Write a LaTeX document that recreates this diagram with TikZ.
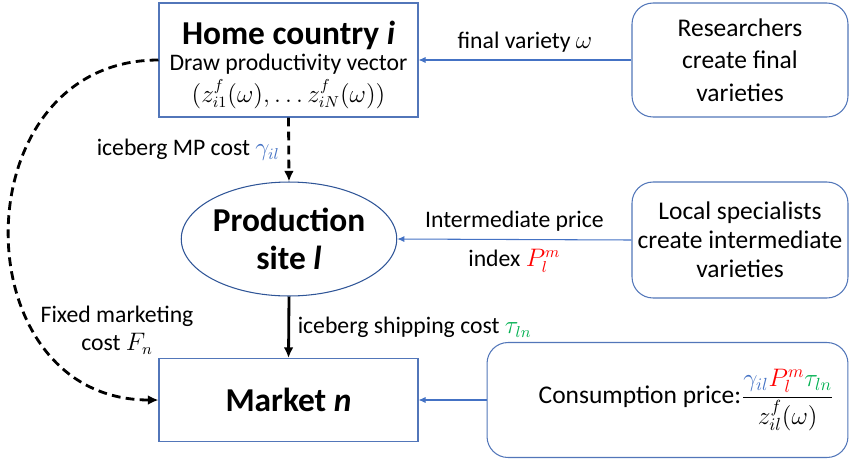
\documentclass[tikz,border=0pt]{standalone}
\usepackage{fontspec}
\setmainfont{Carlito}
\usetikzlibrary{shapes.geometric,arrows.meta}
\definecolor{boxblue}{RGB}{82,118,185}
\definecolor{siteblue}{RGB}{47,85,151}
\definecolor{gamblue}{RGB}{68,114,196}
\definecolor{taugreen}{RGB}{0,176,80}
\newcommand{\headfont}{\fontsize{19}{22}\selectfont\bfseries}
\newcommand{\labfont}{\fontsize{13.5}{16}\selectfont}
\begin{document}
\begin{tikzpicture}[x=0.02cm,y=-0.02cm,
    sq/.style={draw=boxblue,line width=0.6pt,align=center,inner sep=0pt},
    rd/.style={sq,rounded corners=0.42cm,minimum width=4.32cm},
    feed/.style={draw=gamblue,line width=0.6pt,-{Latex[length=4pt,width=3.5pt]}},
    flow/.style={line width=1.6pt,-{Latex[length=6pt,width=5.5pt]}},
    cost/.style={flow,dash pattern=on 5pt off 3pt}]
  \useasboundingbox (0,0) rectangle (850,461);
  \draw
    (288.5,60) node[sq,minimum width=5.18cm,minimum height=2.28cm,font=\labfont] (home)
      {{\headfont\rule{0pt}{19pt}Home country \textit{i}}\\[-1.5pt]
       Draw productivity vector\\[2.5pt]
       $(z^f_{i1}(\omega),\ldots z^f_{iN}(\omega))$}
    (740,60) node[rd,minimum height=2.28cm,font=\fontsize{14.5}{18.4}\selectfont] (res)
      {Researchers\\create final\\varieties}
    (289,239) node[sq,draw=siteblue,ellipse,minimum width=3.92cm,minimum height=2.28cm,
      font=\headfont] (site) {Production\\site \textit{l}}
    (740,240) node[rd,minimum height=2.32cm,font=\fontsize{14.5}{16.4}\selectfont] (spec)
      {Local specialists\\create intermediate\\varieties}
    (288.5,400) node[sq,minimum width=5.18cm,minimum height=1.66cm,font=\headfont] (mkt)
      {Market \textit{n}}
    (667.5,400) node[rd,minimum width=7.22cm,minimum height=2.3cm,
      font=\fontsize{14.5}{18}\selectfont] (cons)
      {\hspace*{0.76cm}Consumption price:$\displaystyle\frac{\textcolor{gamblue}{\gamma_{il}}
       \textcolor{red}{P^m_l}\textcolor{taugreen}{\tau_{ln}}}{z^f_{il}(\omega)}$};
  \node[align=center,font=\labfont] (fixed) at (117,330) {Fixed marketing\\cost $F_n$};
  \begin{scope}[font=\labfont]
    \draw[feed] (res.west) -- (home.east)
      node[midway,above=1pt] {final variety $\omega$};
    \draw[feed] (spec.west) -- (site.east)
      node[midway,above=1pt] {Intermediate price}
      node[midway,below=2pt] {index \textcolor{red}{$P^m_l$}};
    \draw[feed] (cons.west) -- (mkt.east);
    \draw[cost] (home.south) -- (site.north)
      node[midway,left=1pt] {iceberg MP cost \textcolor{gamblue}{$\gamma_{il}$}};
    \draw[flow] (site.south) -- (mkt.north)
      node[midway,right=1pt] {iceberg shipping cost \textcolor{taugreen}{$\tau_{ln}$}};
    \draw[cost] (home.west) to[out=180,in=180,looseness=1.5] (mkt.west);
  \end{scope}
\end{tikzpicture}
\end{document}
